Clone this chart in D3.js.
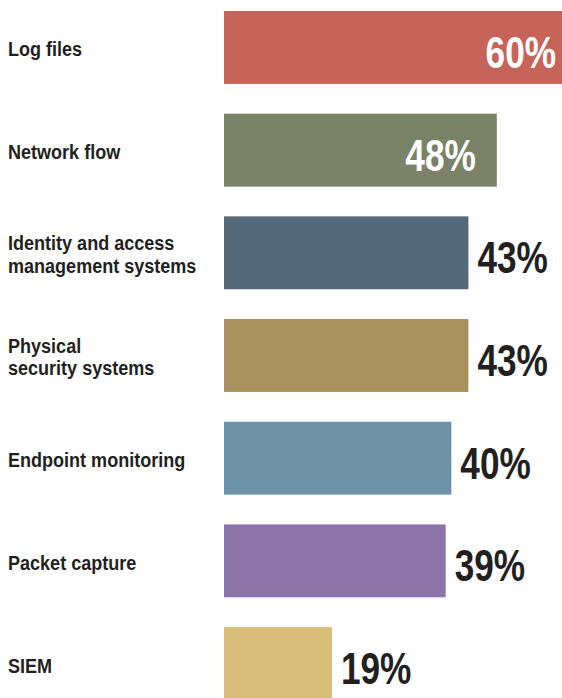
<!DOCTYPE html>
<html>
<head>
<meta charset="utf-8">
<script src="https://cdn.jsdelivr.net/npm/d3@7"></script>
<style>
  html, body { margin: 0; padding: 0; background: #fff; }
  svg { display: block; }
  .cat { font-family: "Liberation Sans", Arial, sans-serif; font-weight: 700; font-size: 20.5px; fill: #231f20; }
  .val { font-family: "Liberation Sans", Arial, sans-serif; font-weight: 700; font-size: 44px; }
</style>
</head>
<body>
<svg id="chart" width="562" height="698"></svg>
<script>
// Share of respondents using each data source
const categories = [
  ["Log files"],
  ["Network flow"],
  ["Identity and access", "management systems"],
  ["Physical", "security systems"],
  ["Endpoint monitoring"],
  ["Packet capture"],
  ["SIEM"]
];
const values = [60, 48, 43, 43, 40, 39, 19];
const colors = ["#c6645a", "#7a8267", "#546878", "#a8905f", "#6e93a6", "#8b74a8", "#d9bd7a"];
const insideLabel = [true, true, false, false, false, false, false];

const W = 562, H = 698;
const catCondense = 0.88;   // narrow the label face horizontally
const valCondense = 0.8;
const svg = d3.select("#chart");

const keys = categories.map(c => c.join(" "));
const x = d3.scaleLinear().domain([0, 60]).range([224, 565]);
const y = d3.scaleBand().domain(keys).range([11, 700]).paddingInner(0.29).paddingOuter(0);

const rows = keys.map((k, i) => ({ key: k, lines: categories[i], value: values[i], color: colors[i], inside: insideLabel[i] }));

const g = svg.selectAll("g.row").data(rows).join("g").attr("class", "row");

g.append("rect")
  .attr("x", x(0))
  .attr("y", d => y(d.key))
  .attr("width", d => x(d.value) - x(0))
  .attr("height", y.bandwidth())
  .attr("fill", d => d.color);

// category names, vertically centred on each bar
g.append("text")
  .attr("class", "cat")
  .attr("transform", d => `translate(8,${y(d.key) + y.bandwidth() / 2}) scale(${catCondense},1)`)
  .selectAll("tspan")
  .data(d => d.lines.map((t, j) => ({ t, j, n: d.lines.length })))
  .join("tspan")
  .attr("x", 0)
  .attr("dy", l => l.j === 0 ? (9 - (l.n - 1) * 12) : 23)
  .text(l => l.t);

// value labels: inside the bar (white) or just past its end (dark);
// a bar running off the right edge gets its label pinned to the edge
function labelX(d) {
  if (!d.inside) return x(d.value) + 9;
  return x(d.value) >= W ? W - 6 : x(d.value) - 21;
}

g.append("text")
  .attr("class", "val")
  .attr("transform", d => {
    const ty = y(d.key) + y.bandwidth() / 2 + 20.5;
    return `translate(${labelX(d)},${ty}) scale(${valCondense},1)`;
  })
  .attr("text-anchor", d => d.inside ? "end" : "start")
  .attr("fill", d => d.inside ? "#ffffff" : "#231f20")
  .text(d => d.value + "%");
</script>
</body>
</html>
